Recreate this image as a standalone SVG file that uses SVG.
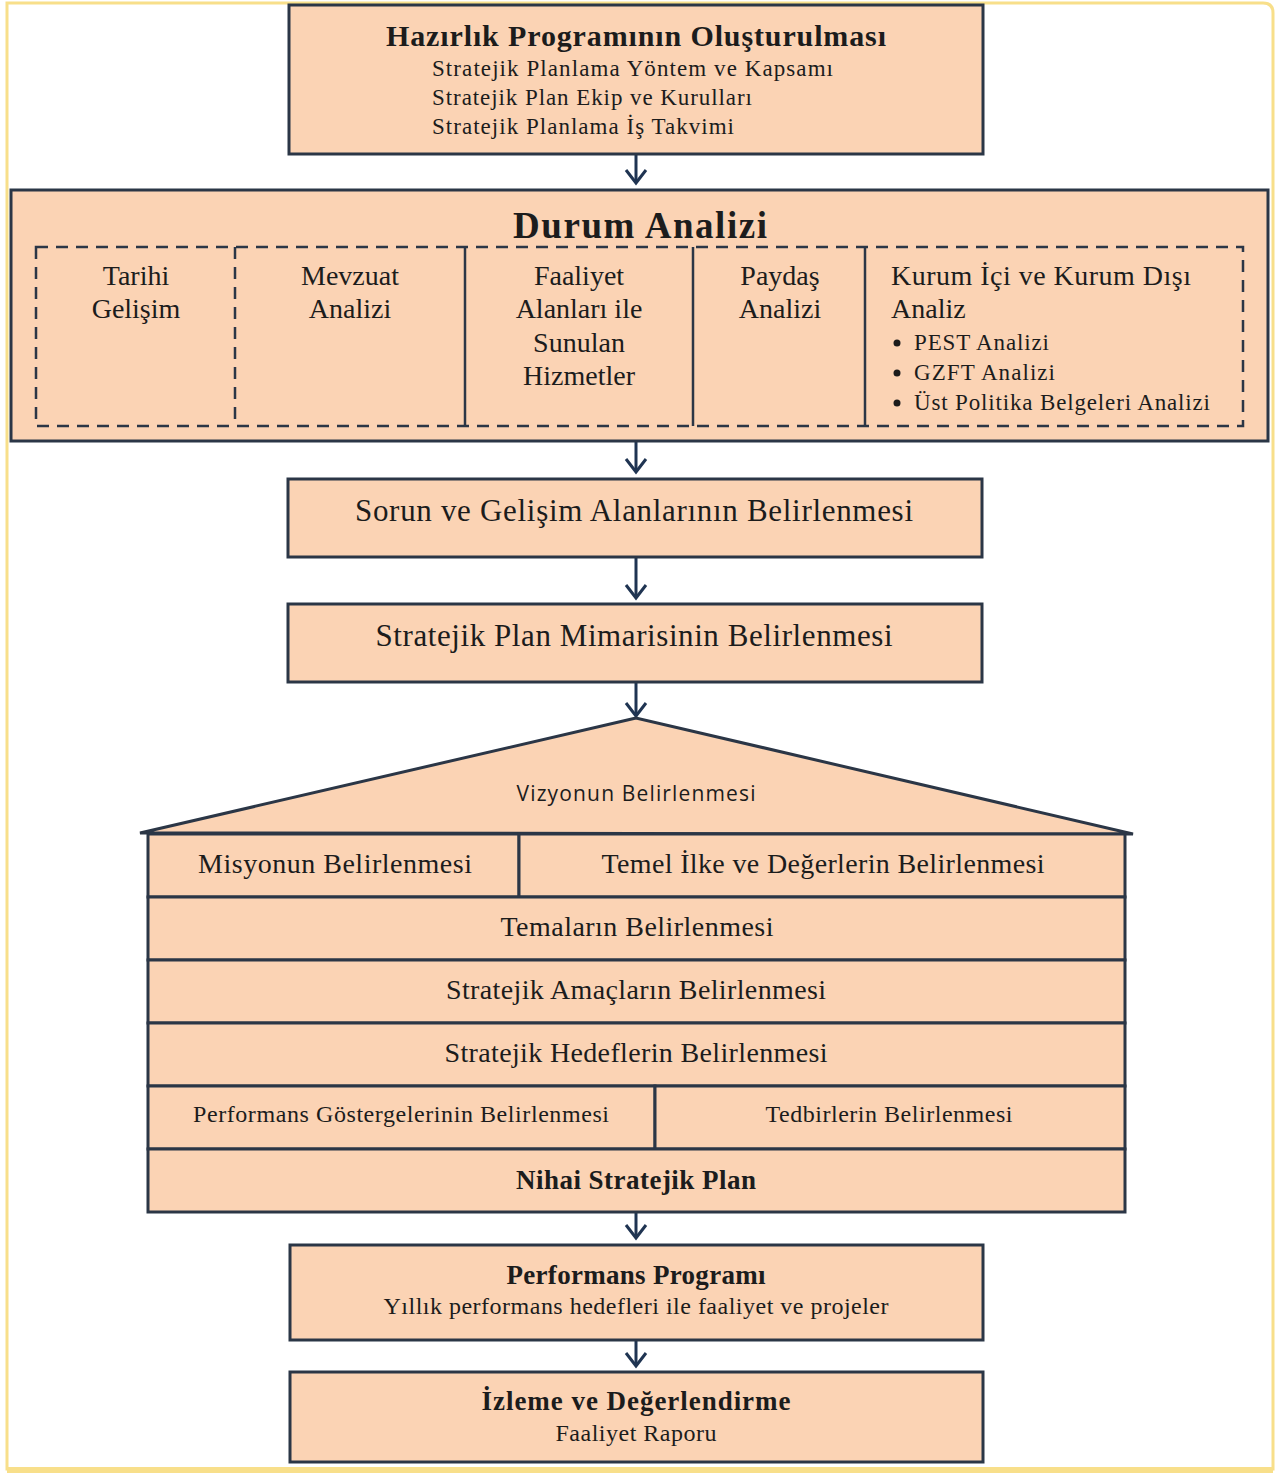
<svg xmlns="http://www.w3.org/2000/svg" width="1281" height="1479" viewBox="0 0 1281 1479">
<defs>
<style>
.box{fill:#fbd3b4;stroke:#2b3646;stroke-width:3}
.thin{fill:none;stroke:#2b3646;stroke-width:2.5}
.dash{fill:none;stroke:#2b3646;stroke-width:2.5;stroke-dasharray:12 8}
.t{font-family:"Liberation Serif","Times New Roman",serif;fill:#1c1c1c}
.b{font-weight:bold}
.s{font-family:"Open Sans","Liberation Sans",sans-serif;fill:#1c1c1c}
.m{text-anchor:middle}
.conn{stroke:#1f3452;stroke-width:3;fill:none}
</style>
<marker id="arr" markerUnits="userSpaceOnUse" viewBox="-16 -12 19 24" refX="0" refY="0" markerWidth="19" markerHeight="24" orient="auto">
<path d="M-13,-10 L0,0 L-13,10" fill="none" stroke="#1f3452" stroke-width="3" stroke-linejoin="miter"/>
</marker>
</defs>
<rect x="0" y="0" width="1281" height="1479" fill="#ffffff"/>
<path d="M7,3 H1263 Q1273,3 1273,13 V1469 H7 Z" fill="none" stroke="#f8df8a" stroke-width="3"/>
<line x1="7" y1="1470" x2="1273" y2="1470" stroke="#f8df8a" stroke-width="6"/>

<g id="connectors">
<line class="conn" x1="636" y1="155" x2="636" y2="183" marker-end="url(#arr)"/>
<line class="conn" x1="636" y1="442" x2="636" y2="472" marker-end="url(#arr)"/>
<line class="conn" x1="636" y1="558" x2="636" y2="598" marker-end="url(#arr)"/>
<line class="conn" x1="636" y1="683" x2="636" y2="716" marker-end="url(#arr)"/>
<line class="conn" x1="636" y1="1213" x2="636" y2="1238" marker-end="url(#arr)"/>
<line class="conn" x1="636" y1="1341" x2="636" y2="1366" marker-end="url(#arr)"/>
</g>

<g id="hazirlik">
<rect class="box" x="289" y="5" width="694" height="149"/>
<text class="t b m" x="636" y="46" font-size="30" textLength="500">Hazırlık Programının Oluşturulması</text>
<text class="t" x="432" y="76" font-size="23" textLength="401">Stratejik Planlama Yöntem ve Kapsamı</text>
<text class="t" x="432" y="105" font-size="23" textLength="320">Stratejik Plan Ekip ve Kurulları</text>
<text class="t" x="432" y="134" font-size="23" textLength="302">Stratejik Planlama İş Takvimi</text>
</g>

<g id="durum">
<rect class="box" x="11" y="190" width="1257" height="251"/>
<text class="t b m" x="640" y="238" font-size="37" textLength="254">Durum Analizi</text>
<rect class="dash" x="36" y="247" width="1207" height="179"/>
<line class="dash" x1="235" y1="247" x2="235" y2="426"/>
<line class="thin" x1="465" y1="247" x2="465" y2="426"/>
<line class="thin" x1="693" y1="247" x2="693" y2="426"/>
<line class="thin" x1="865" y1="247" x2="865" y2="426"/>
<text class="t m" font-size="28" x="136" y="285">Tarihi</text>
<text class="t m" font-size="28" x="136" y="318">Gelişim</text>
<text class="t m" font-size="28" x="350" y="285">Mevzuat</text>
<text class="t m" font-size="28" x="350" y="318">Analizi</text>
<text class="t m" font-size="28" x="579" y="285">Faaliyet</text>
<text class="t m" font-size="28" x="579" y="318">Alanları ile</text>
<text class="t m" font-size="28" x="579" y="352">Sunulan</text>
<text class="t m" font-size="28" x="579" y="385">Hizmetler</text>
<text class="t m" font-size="28" x="780" y="285">Paydaş</text>
<text class="t m" font-size="28" x="780" y="318">Analizi</text>
<text class="t" font-size="28" x="891" y="285" textLength="300">Kurum İçi ve Kurum Dışı</text>
<text class="t" font-size="28" x="891" y="318">Analiz</text>
<circle cx="897" cy="343" r="3.5" fill="#1c1c1c"/>
<circle cx="897" cy="373" r="3.5" fill="#1c1c1c"/>
<circle cx="897" cy="403" r="3.5" fill="#1c1c1c"/>
<text class="t" font-size="23" x="914" y="350" textLength="135">PEST Analizi</text>
<text class="t" font-size="23" x="914" y="380" textLength="141">GZFT Analizi</text>
<text class="t" font-size="23" x="914" y="410" textLength="296">Üst Politika Belgeleri Analizi</text>
</g>

<g id="sorun">
<rect class="box" x="288" y="479" width="694" height="78"/>
<text class="t m" x="634" y="521" font-size="31" textLength="558">Sorun ve Gelişim Alanlarının Belirlenmesi</text>
</g>

<g id="mimari">
<rect class="box" x="288" y="604" width="694" height="78"/>
<text class="t m" x="634" y="646" font-size="31" textLength="517">Stratejik Plan Mimarisinin Belirlenmesi</text>
</g>

<g id="vizyon">
<path class="box" d="M636,718 L140,833 L1133,834 Z"/>
<text class="s m" x="636" y="801" font-size="21" textLength="239">Vizyonun Belirlenmesi</text>
</g>

<g id="misyon">
<rect class="box" x="148" y="834" width="371" height="63"/>
<text class="t m" x="335" y="873" font-size="28" textLength="274">Misyonun Belirlenmesi</text>
</g>
<g id="temel">
<rect class="box" x="519" y="834" width="606" height="63"/>
<text class="t m" x="823" y="873" font-size="28" textLength="443">Temel İlke ve Değerlerin Belirlenmesi</text>
</g>
<g id="temalar">
<rect class="box" x="148" y="897" width="977" height="63"/>
<text class="t m" x="637" y="936" font-size="28" textLength="273">Temaların Belirlenmesi</text>
</g>
<g id="amaclar">
<rect class="box" x="148" y="960" width="977" height="63"/>
<text class="t m" x="636" y="999" font-size="28" textLength="380">Stratejik Amaçların Belirlenmesi</text>
</g>
<g id="hedefler">
<rect class="box" x="148" y="1023" width="977" height="63"/>
<text class="t m" x="636" y="1062" font-size="28" textLength="383">Stratejik Hedeflerin Belirlenmesi</text>
</g>
<g id="gostergeler">
<rect class="box" x="148" y="1086" width="507" height="63"/>
<text class="t m" x="401" y="1122" font-size="24" textLength="416">Performans Göstergelerinin Belirlenmesi</text>
</g>
<g id="tedbirler">
<rect class="box" x="655" y="1086" width="470" height="63"/>
<text class="t m" x="889" y="1122" font-size="24" textLength="247">Tedbirlerin Belirlenmesi</text>
</g>
<g id="nihai">
<rect class="box" x="148" y="1149" width="977" height="63"/>
<text class="t b m" x="636" y="1189" font-size="27" textLength="240">Nihai Stratejik Plan</text>
</g>

<g id="performans">
<rect class="box" x="290" y="1245" width="693" height="95"/>
<text class="t b m" x="636" y="1284" font-size="27" textLength="259">Performans Programı</text>
<text class="t m" x="636" y="1314" font-size="24" textLength="505">Yıllık performans hedefleri ile faaliyet ve projeler</text>
</g>

<g id="izleme">
<rect class="box" x="290" y="1372" width="693" height="90"/>
<text class="t b m" x="636" y="1410" font-size="27" textLength="309">İzleme ve Değerlendirme</text>
<text class="t m" x="636" y="1441" font-size="24" textLength="161">Faaliyet Raporu</text>
</g>
</svg>
